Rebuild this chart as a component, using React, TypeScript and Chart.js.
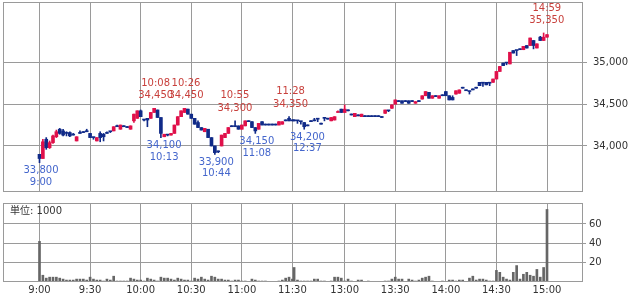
import React, { useEffect, useRef } from "react";
import { Chart, registerables } from "chart.js";

Chart.register(...registerables);

const FONT = "'DejaVu Sans', 'Noto Sans CJK JP', sans-serif";
const GRID = "#9a9a9a";
const TEXT = "#333333";
const UP = "#e0104a";
const DOWN = "#102a88";
const HIGH_TEXT = "#c8403c";
const LOW_TEXT = "#4466cc";
const VOL = "#666666";

// 2-minute candles, morning session 9:00 - 11:30
const amOpen = [
  33900, 33850, 34080, 33980, 34040, 34110, 34200, 34180, 34150, 34160,
  34130, 34060, 34150, 34160, 34170, 34150, 34100, 34060, 34150, 34140,
  34150, 34170, 34180, 34230, 34200, 34230, 34220, 34200, 34300, 34330,
  34420, 34310, 34330, 34330, 34400, 34430, 34340, 34110, 34130, 34130,
  34150, 34250, 34350, 34400, 34440, 34380, 34330, 34280, 34220, 34170,
  34200, 34100, 34000, 33940, 34000, 34100, 34150, 34230, 34230, 34240,
  34200, 34240, 34290, 34290, 34220, 34200, 34290, 34250, 34250, 34250,
  34250, 34250, 34260, 34300, 34330, 34300,
];
const amHigh = [
  33900, 34080, 34100, 34060, 34130, 34190, 34210, 34200, 34170, 34170,
  34150, 34110, 34180, 34170, 34200, 34150, 34100, 34100, 34170, 34150,
  34170, 34170, 34230, 34250, 34250, 34230, 34220, 34240, 34380, 34420,
  34430, 34310, 34330, 34400, 34450, 34430, 34340, 34140, 34130, 34150,
  34250, 34350, 34420, 34450, 34440, 34380, 34330, 34300, 34220, 34210,
  34200, 34100, 34000, 33940, 34130, 34150, 34220, 34230, 34300, 34240,
  34250, 34300, 34290, 34290, 34220, 34270, 34290, 34250, 34250, 34250,
  34250, 34290, 34290, 34300, 34350, 34300,
];
const amLow = [
  33800, 33850, 33960, 33970, 34030, 34100, 34140, 34120, 34120, 34110,
  34130, 34060, 34150, 34160, 34170, 34100, 34080, 34060, 34050, 34060,
  34150, 34160, 34180, 34230, 34200, 34230, 34220, 34200, 34280, 34330,
  34350, 34300, 34230, 34330, 34400, 34340, 34100, 34110, 34120, 34130,
  34150, 34250, 34350, 34400, 34380, 34330, 34260, 34220, 34190, 34170,
  34100, 34000, 33900, 33920, 34000, 34100, 34150, 34230, 34230, 34200,
  34200, 34240, 34290, 34220, 34150, 34200, 34250, 34250, 34250, 34250,
  34250, 34250, 34260, 34300, 34300, 34300,
];
const amClose = [
  33850, 34050, 33980, 34040, 34120, 34170, 34150, 34130, 34150, 34120,
  34130, 34110, 34150, 34160, 34170, 34100, 34100, 34100, 34100, 34110,
  34150, 34170, 34230, 34230, 34250, 34230, 34220, 34240, 34380, 34420,
  34350, 34310, 34310, 34400, 34450, 34340, 34150, 34140, 34130, 34150,
  34250, 34350, 34420, 34450, 34380, 34330, 34260, 34220, 34190, 34210,
  34100, 34000, 33920, 33930, 34130, 34150, 34220, 34230, 34230, 34200,
  34250, 34300, 34290, 34220, 34180, 34270, 34250, 34250, 34250, 34250,
  34250, 34290, 34290, 34300, 34300, 34300,
];
const amVolume = [
  42, 7, 4, 5, 5, 5, 4, 3, 2, 2,
  2, 3, 3, 3, 2, 5, 3, 2, 2, 1,
  3, 2, 6, 1, 1, 1, 1, 4, 3, 2,
  2, 1, 4, 3, 2, 1, 5, 4, 4, 3,
  2, 4, 3, 2, 2, 1, 4, 3, 5, 3,
  2, 6, 5, 3, 3, 2, 2, 1, 2, 2,
  1, 1, 0.5, 3, 2, 1, 1, 1, 0.5, 0.5,
  0.5, 1, 2, 4, 5, 3,
];

// 2-minute candles, afternoon session 12:30 - 15:00
const pmOpen = [
  34300, 34300, 34290, 34280, 34240, 34290, 34300, 34320, 34260, 34330,
  34320, 34300, 34310, 34400, 34440, 34400, 34420, 34370, 34350, 34360,
  34350, 34350, 34350, 34350, 34350, 34350, 34340, 34390, 34420, 34450,
  34500, 34530, 34540, 34530, 34540, 34530, 34510, 34530, 34560, 34600,
  34640, 34570, 34590, 34570, 34600, 34650, 34600, 34580, 34620, 34630,
  34690, 34660, 34650, 34670, 34690, 34760, 34750, 34760, 34750, 34760,
  34800, 34890, 34990, 34990, 34980, 35140, 35140, 35150, 35150, 35200,
  35200, 35260, 35170, 35300, 35260, 35300,
];
const pmHigh = [
  34300, 34300, 34290, 34280, 34240, 34290, 34330, 34320, 34260, 34330,
  34320, 34340, 34350, 34420, 34440, 34490, 34420, 34370, 34390, 34360,
  34380, 34350, 34350, 34350, 34350, 34350, 34340, 34430, 34420, 34490,
  34550, 34530, 34540, 34530, 34540, 34530, 34530, 34530, 34600, 34650,
  34640, 34600, 34590, 34600, 34600, 34650, 34600, 34600, 34660, 34670,
  34690, 34660, 34650, 34670, 34690, 34760, 34750, 34760, 34750, 34800,
  34890, 34950, 34990, 35000, 35120, 35140, 35140, 35150, 35190, 35200,
  35290, 35260, 35220, 35310, 35350, 35330,
];
const pmLow = [
  34300, 34270, 34260, 34200, 34240, 34290, 34300, 34290, 34260, 34300,
  34320, 34300, 34310, 34400, 34400, 34400, 34420, 34370, 34350, 34360,
  34350, 34350, 34350, 34350, 34350, 34350, 34340, 34390, 34410, 34450,
  34500, 34530, 34510, 34530, 34510, 34530, 34510, 34530, 34560, 34600,
  34570, 34570, 34590, 34570, 34600, 34600, 34550, 34550, 34620, 34630,
  34690, 34660, 34620, 34670, 34690, 34720, 34710, 34730, 34720, 34760,
  34800, 34890, 34960, 34970, 34980, 35110, 35080, 35150, 35150, 35170,
  35200, 35160, 35170, 35260, 35260, 35300,
];
const pmClose = [
  34300, 34300, 34290, 34230, 34240, 34290, 34300, 34320, 34260, 34330,
  34320, 34340, 34350, 34410, 34400, 34440, 34420, 34370, 34390, 34360,
  34380, 34350, 34350, 34350, 34350, 34350, 34340, 34430, 34420, 34490,
  34550, 34530, 34510, 34530, 34510, 34530, 34530, 34530, 34600, 34650,
  34570, 34600, 34590, 34600, 34600, 34600, 34550, 34550, 34660, 34670,
  34690, 34660, 34650, 34670, 34690, 34720, 34750, 34730, 34750, 34800,
  34890, 34950, 34960, 34990, 35120, 35110, 35140, 35150, 35190, 35170,
  35290, 35200, 35220, 35260, 35300, 35330,
];
const pmVolume = [
  15, 2, 1, 1, 1, 1, 3, 3, 1, 1,
  0.5, 1, 5, 5, 4, 1, 3, 1, 0.5, 2,
  2, 0.5, 1, 0.5, 0.5, 0.5, 0.5, 1, 1, 3,
  5, 3, 3, 0.5, 3, 2, 1, 2, 4, 5,
  6, 1, 0.5, 0.5, 1, 0.5, 2, 2, 1, 2,
  2, 0.5, 4, 6, 2, 3, 3, 2, 1, 1,
  12, 10, 5, 3, 2, 10, 17, 3, 8, 10,
  7, 6, 13, 5, 15, 75,
];

// axis positions in trading minutes (9:00 = 0, 11:30 = 150, 12:30 = 151)
const xTickMinutes = [0, 30, 60, 90, 120, 150, 181, 211, 241, 271, 301];
const xTickLabels = ["9:00", "9:30", "10:00", "10:30", "11:00", "11:30", "13:00", "13:30", "14:00", "14:30", "15:00"];
const priceTicks = [34000, 34500, 35000];
const volumeTicks = [20, 40, 60];

// high / low annotations
const markMinutes = [0, 68, 73, 86, 104, 115, 128, 148, 158, 300];
const markTimes = ["9:00", "10:08", "10:13", "10:26", "10:44", "10:55", "11:08", "11:28", "12:37", "14:59"];
const markPrices = [33800, 34450, 34100, 34450, 33900, 34300, 34150, 34350, 34200, 35350];
const markIsHigh = [false, true, false, true, false, true, false, true, false, true];

const amSlots = amOpen.map((_, k) => 2 * k);
const pmSlots = pmOpen.map((_, k) => 151 + 2 * k);
const slots = [...amSlots, ...pmSlots];
const opens = [...amOpen, ...pmOpen];
const highs = [...amHigh, ...pmHigh];
const lows = [...amLow, ...pmLow];
const closes = [...amClose, ...pmClose];
const volumes = [...amVolume, ...pmVolume];

const X_MIN = -21.65;
const X_MAX = 322.35;

const fmt = (v: number) => v.toLocaleString("en-US");

const noPad = (s: any) => {
  s.paddingTop = 0;
  s.paddingBottom = 0;
  s.paddingLeft = 0;
  s.paddingRight = 0;
};

const frame = {
  id: "frame",
  afterDraw(chart: any) {
    const { ctx, chartArea } = chart;
    ctx.save();
    ctx.strokeStyle = GRID;
    ctx.lineWidth = 1;
    ctx.strokeRect(
      Math.round(chartArea.left) + 0.5,
      Math.round(chartArea.top) + 0.5,
      Math.round(chartArea.right - chartArea.left) - 1,
      Math.round(chartArea.bottom - chartArea.top) - 1
    );
    ctx.restore();
  },
};

const marksPlugin = {
  id: "marks",
  afterDatasetsDraw(chart: any) {
    const { ctx } = chart;
    const xs = chart.scales.x;
    const ys = chart.scales.y;
    ctx.save();
    ctx.font = `10px ${FONT}`;
    ctx.textAlign = "center";
    ctx.textBaseline = "middle";
    markMinutes.forEach((m, i) => {
      const x = xs.getPixelForValue(m) + 1.5;
      const y = ys.getPixelForValue(markPrices[i]);
      if (markIsHigh[i]) {
        ctx.fillStyle = HIGH_TEXT;
        ctx.fillText(markTimes[i], x, y - 25);
        ctx.fillText(fmt(markPrices[i]), x, y - 12.5);
      } else {
        ctx.fillStyle = LOW_TEXT;
        ctx.fillText(fmt(markPrices[i]), x, y + 8);
        ctx.fillText(markTimes[i], x, y + 19.5);
      }
    });
    ctx.restore();
  },
};

const unitPlugin = {
  id: "unit",
  afterDraw(chart: any) {
    const { ctx, chartArea } = chart;
    ctx.save();
    ctx.font = `10px ${FONT}`;
    ctx.fillStyle = TEXT;
    ctx.textAlign = "left";
    ctx.textBaseline = "middle";
    ctx.fillText("単位: 1000", chartArea.left + 7, chartArea.top + 8.5);
    ctx.restore();
  },
};

const candleColor = (i: number) => (closes[i] > opens[i] ? UP : DOWN);

function xScale(showLabels: boolean) {
  return {
    type: "linear" as const,
    min: X_MIN,
    max: X_MAX,
    offset: false,
    afterBuildTicks: (s: any) => {
      s.ticks = xTickMinutes.map((v) => ({ value: v }));
    },
    ticks: {
      display: showLabels,
      autoSkip: false,
      maxRotation: 0,
      padding: 2,
      color: TEXT,
      font: { family: FONT, size: 10 },
      callback: (v: any) => {
        const idx = xTickMinutes.indexOf(Number(v));
        return idx >= 0 ? xTickLabels[idx] : "";
      },
    },
    grid: { color: GRID, drawTicks: false, offset: false },
    border: { display: false },
    afterFit: (s: any) => {
      s.height = showLabels ? 14 : 0;
      noPad(s);
    },
  };
}

export default function App() {
  const priceRef = useRef<HTMLCanvasElement>(null);
  const volRef = useRef<HTMLCanvasElement>(null);

  useEffect(() => {
    const priceChart = new Chart(priceRef.current as HTMLCanvasElement, {
      type: "bar",
      data: {
        datasets: [
          {
            label: "body",
            data: slots.map((m, i) => ({ x: m, y: [opens[i], closes[i]] })) as any,
            backgroundColor: (c: any) => candleColor(c.dataIndex),
            barThickness: 3,
            minBarLength: 1,
            grouped: false,
            order: 1,
          } as any,
          {
            label: "wick",
            data: slots.map((m, i) => ({ x: m, y: [lows[i], highs[i]] })) as any,
            backgroundColor: (c: any) => candleColor(c.dataIndex),
            barThickness: 1,
            minBarLength: 1,
            grouped: false,
            order: 2,
          } as any,
        ],
      },
      options: {
        animation: false,
        responsive: false,
        maintainAspectRatio: false,
        events: [],
        layout: { padding: { left: 3, top: 2, right: 0, bottom: 8 } },
        plugins: { legend: { display: false }, tooltip: { enabled: false } },
        scales: {
          x: xScale(false) as any,
          y: {
            position: "right",
            min: 33450,
            max: 35720,
            afterBuildTicks: (s: any) => {
              s.ticks = priceTicks.map((v) => ({ value: v }));
            },
            ticks: {
              color: TEXT,
              padding: 6,
              font: { family: FONT, size: 10 },
              callback: (v: any) => fmt(Number(v)),
            },
            grid: { color: GRID, tickLength: 4, drawTicks: true },
            border: { display: false },
            afterFit: (s: any) => {
              s.width = 52;
              noPad(s);
            },
          },
        },
      },
      plugins: [frame, marksPlugin],
    });

    const volChart = new Chart(volRef.current as HTMLCanvasElement, {
      type: "bar",
      data: {
        datasets: [
          {
            label: "volume",
            data: slots.map((m, i) => ({ x: m, y: volumes[i] })) as any,
            backgroundColor: VOL,
            barThickness: 2,
            grouped: false,
          } as any,
        ],
      },
      options: {
        animation: false,
        responsive: false,
        maintainAspectRatio: false,
        events: [],
        layout: { padding: { left: 3, top: 7, right: 0, bottom: 0 } },
        plugins: { legend: { display: false }, tooltip: { enabled: false } },
        scales: {
          x: xScale(true) as any,
          y: {
            position: "right",
            min: 0,
            max: 81.7,
            afterBuildTicks: (s: any) => {
              s.ticks = volumeTicks.map((v) => ({ value: v }));
            },
            ticks: {
              color: TEXT,
              padding: 3,
              font: { family: FONT, size: 10 },
              callback: (v: any) => String(v),
            },
            grid: { color: GRID, tickLength: 3, drawTicks: true },
            border: { display: false },
            afterFit: (s: any) => {
              s.width = 52;
              noPad(s);
            },
          },
        },
      },
      plugins: [frame, unitPlugin],
    });

    return () => {
      priceChart.destroy();
      volChart.destroy();
    };
  }, []);

  return (
    <div style={{ position: "fixed", left: 0, top: 0, width: 635, height: 296, background: "#ffffff" }}>
      <canvas
        ref={priceRef}
        width={635}
        height={200}
        style={{ position: "absolute", left: 0, top: 0, width: 635, height: 200 }}
      />
      <canvas
        ref={volRef}
        width={635}
        height={100}
        style={{ position: "absolute", left: 0, top: 196, width: 635, height: 100 }}
      />
    </div>
  );
}
